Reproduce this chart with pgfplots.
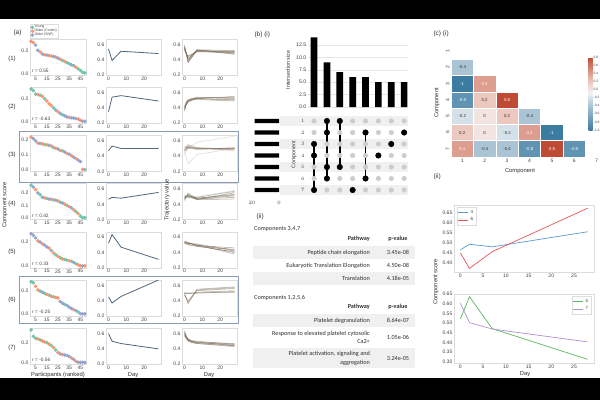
\documentclass[border=0pt]{standalone}
\usepackage{pgfplots}
\pgfplotsset{compat=1.18}
\usepackage{fontspec}
\setmainfont{Liberation Sans}
\newfontfamily\tabfont{Carlito}
\definecolor{cg}{HTML}{66C2A5}
\definecolor{co}{HTML}{FC8D62}
\definecolor{cb}{HTML}{8DA0CB}
\definecolor{spine}{HTML}{DCDCDC}
\definecolor{gridl}{HTML}{E6E6E6}
\definecolor{tickc}{HTML}{404040}
\definecolor{labc}{HTML}{303030}
\definecolor{linec}{HTML}{4F6680}
\definecolor{trajc}{HTML}{7A6A57}
\definecolor{framec}{HTML}{8C9CB8}
\definecolor{bandc}{HTML}{F0F0F0}
\definecolor{dotg}{HTML}{CCCCCC}
\definecolor{c4}{HTML}{5B9BD0}
\definecolor{c6}{HTML}{E8565A}
\definecolor{c5}{HTML}{5CB85C}
\definecolor{c7}{HTML}{B08FD0}
\definecolor{tr}{HTML}{D9534F}
\definecolor{tg}{HTML}{5CB85C}
\definecolor{tb}{HTML}{5B8FD0}
\definecolor{hm1}{RGB}{59,124,160}
\definecolor{hm08}{RGB}{97,148,178}
\definecolor{hmm04}{RGB}{170,196,213}
\definecolor{hmm02}{RGB}{213,225,233}
\definecolor{hz}{RGB}{242,228,224}
\definecolor{hp02}{RGB}{236,200,191}
\definecolor{hp04}{RGB}{222,158,143}
\definecolor{hp08}{RGB}{192,75,52}

\pgfdeclareplotmark{cell}{%
 \pgfpathrectangle{\pgfpoint{-11.2pt}{-8.1pt}}{\pgfpoint{22.4pt}{16.2pt}}%
 \pgfusepathqfillstroke}

\pgfplotsset{
 base/.style={scale only axis, axis line style={draw=spine, line width=0.6pt}, tick style={draw=none},
   ticklabel style={font=\fontsize{5}{6}\selectfont, text=tickc, inner sep=1.5pt},
   /pgf/number format/assume math mode=true},
 f1/.style={yticklabel style={/pgf/number format/.cd, fixed, fixed zerofill, precision=1}},
 f2/.style={yticklabel style={/pgf/number format/.cd, fixed, fixed zerofill, precision=2}},
 trajax/.style={anchor=north west, width=55pt, height=36pt, xmin=-1.4, xmax=29.4, ymin=0.2, ymax=0.67,
   xtick={0,10,20}, ytick={0.2,0.4,0.6}, f1},
}

% class-coloured dots: c = 0 young, 1 older comm, 2 older SNF
\newcommand\clsdots[3]{%
 \addplot[only marks, mark=*, mark size=1.6pt, color=#1, opacity=0.9] table[row sep=\\, restrict expr to domain={\thisrow{c}}{#2:#2}] {x y c\\#3};}
\newcommand\colone[7][]{%
 \begin{axis}[base, f1, clip=false, at={(30pt,-#2pt)}, anchor=north west, width=56pt, height=36pt,
   xmin=0, xmax=50, ymin=#3, ymax=#4, xtick={5,15,25,35,45}, ytick={#5}, #1]
 \clsdots{cg}{0}{#6}\clsdots{co}{1}{#6}\clsdots{cb}{2}{#6}
 \node[anchor=south west, inner sep=1pt, font=\fontsize{4.8}{5}\selectfont, text=tickc] at (rel axis cs:0.015,0.03) {#7};
 \end{axis}}
\newcommand\coltwo[2]{%
 \begin{axis}[base, trajax, at={(106pt,-#1pt)}]
 \addplot[linec, line width=0.8pt] coordinates {#2};
 \end{axis}}
\newcommand\colthree[2]{%
 \begin{axis}[base, trajax, at={(182pt,-#1pt)}]
 #2
 \end{axis}}
\newcommand\trj[1]{\addplot[trajc, opacity=0.6, line width=0.5pt] coordinates {#1};}
\newcommand\trjc[2]{\addplot[#1, opacity=0.3, line width=0.4pt] coordinates {#2};}
\newcommand\hcell[3]{\addplot[only marks, mark=cell, mark options={fill=#1, draw=white, line width=0.6pt},
   point meta=explicit symbolic, nodes near coords={\pgfplotspointmeta},
   every node near coord/.append style={anchor=center, font=\fontsize{4.3}{5}\selectfont, text=#2}]
   table[meta=t, row sep=\\] {x y t\\#3};}

\begin{document}
\begin{tikzpicture}[x=1pt,y=1pt]
\fill[black] (0,0) rectangle (600,-400);
\fill[white] (0,-19) rectangle (600,-378);

% ---------------- panel (a) ----------------
\node[anchor=west, font=\fontsize{6.5}{7}\selectfont, text=labc] at (10,-33) {(a)};
\draw[framec, line width=0.8pt] (19,-131.5) rectangle (238,-182);
\draw[framec, line width=0.8pt] (19,-276) rectangle (238,-323);
\foreach \t/\l in {39/1, 87.2/2, 135.4/3, 183.6/4, 231.8/5, 280/6, 328.2/7}
  \node[font=\fontsize{6}{7}\selectfont, text=labc] at (12,{-\t-20}) {(\l)};
\node[rotate=90, font=\fontsize{5.8}{7}\selectfont, text=labc] at (5,-205) {Component score};
\node[rotate=90, font=\fontsize{5.8}{7}\selectfont, text=labc] at (167,-200) {Trajectory value};
\node[font=\fontsize{5.8}{7}\selectfont, text=labc] at (58,-375) {Participants (ranked)};
\node[font=\fontsize{5.8}{7}\selectfont, text=labc] at (133,-375) {Day};
\node[font=\fontsize{5.8}{7}\selectfont, text=labc] at (209,-375) {Day};

% row 1
\colone[legend entries={Young, Older (Comm), Older (SNF)}, legend cell align=left,
   legend style={at={(0,1)}, anchor=south west, yshift=0.5pt, font=\fontsize{3.5}{4}\selectfont, draw=spine, inner sep=0.6pt, row sep=-1.4pt, text=tickc, nodes={inner sep=0.6pt}}]
 {39}{-0.015}{0.305}{0,0.2}{1 0.285 1\\3 0.272 1\\5 0.25 2\\7 0.205 2\\9 0.19 1\\11 0.172 2\\13 0.165 1\\15 0.162 2\\17 0.158 1\\19 0.155 1\\21 0.15 2\\23 0.145 1\\25 0.135 2\\27 0.125 1\\29 0.115 0\\31 0.105 1\\33 0.095 0\\35 0.085 0\\37 0.075 2\\39 0.068 0\\41 0.055 1\\43 0.04 0\\45 0.025 0\\47 0.008 0\\49 0.004 0\\}{\textit{r} = 0.55}
\coltwo{39}{(0,0.54) (2,0.39) (7,0.51) (28,0.48)}
\colthree{39}{\trj{(0,0.58) (2,0.36) (7,0.53) (28,0.52)}\trj{(0,0.57) (2,0.38) (7,0.52) (28,0.51)}\trj{(0,0.55) (2,0.40) (7,0.52) (28,0.50)}\trj{(0,0.54) (2,0.42) (7,0.51) (28,0.49)}\trj{(0,0.53) (2,0.44) (7,0.51) (28,0.48)}\trj{(0,0.56) (2,0.41) (7,0.53) (28,0.47)}\trj{(0,0.52) (2,0.45) (7,0.50) (28,0.51)}\trj{(0,0.59) (2,0.37) (7,0.52) (28,0.49)}}

% row 2
\colone{87.2}{-0.015}{0.30}{0,0.2}{1 0.285 0\\3 0.27 0\\5 0.24 0\\7 0.235 1\\9 0.23 0\\11 0.22 1\\13 0.2 0\\15 0.18 1\\17 0.155 1\\19 0.14 1\\21 0.12 0\\23 0.1 2\\25 0.085 1\\27 0.07 2\\29 0.06 0\\31 0.05 2\\33 0.04 2\\35 0.035 1\\37 0.033 2\\39 0.03 2\\41 0.025 2\\43 0.022 1\\45 0.01 1\\47 0.003 2\\49 0.002 2\\}{\textit{r} = -0.63}
\coltwo{87.2}{(0,0.35) (2,0.54) (7,0.56) (28,0.49)}
\colthree{87.2}{\trj{(0,0.36) (1,0.44) (2,0.48) (4,0.51) (7,0.53) (28,0.53)}\trj{(0,0.38) (1,0.45) (2,0.49) (4,0.51) (7,0.52) (28,0.51)}\trj{(0,0.40) (1,0.46) (2,0.49) (4,0.50) (7,0.52) (28,0.50)}\trj{(0,0.42) (1,0.47) (2,0.50) (4,0.51) (7,0.53) (28,0.54)}\trj{(0,0.37) (1,0.46) (2,0.50) (4,0.52) (7,0.54) (28,0.52)}\trj{(0,0.39) (1,0.44) (2,0.47) (4,0.50) (7,0.51) (28,0.49)}\trj{(0,0.41) (1,0.48) (2,0.51) (4,0.52) (7,0.52) (28,0.55)}}

% row 3
\colone{135.4}{-0.012}{0.232}{0,0.1,0.2}{1 0.22 1\\3 0.21 2\\5 0.195 2\\7 0.18 1\\9 0.178 2\\11 0.175 1\\13 0.17 0\\15 0.168 1\\17 0.165 2\\19 0.16 1\\21 0.15 0\\23 0.145 1\\25 0.14 2\\27 0.13 1\\29 0.128 0\\31 0.12 2\\33 0.11 1\\35 0.105 2\\37 0.095 1\\39 0.085 2\\41 0.075 1\\43 0.065 2\\45 0.055 2\\47 0.002 1\\49 0.0 0\\}{}
\coltwo{135.4}{(0,0.47) (2,0.53) (7,0.50) (28,0.50)}
\colthree{135.4}{\trjc{trajc}{(0,0.45) (2,0.30) (7,0.42) (28,0.50)}\trjc{trajc}{(0,0.42) (2,0.50) (7,0.58) (28,0.66)}\trjc{tr}{(0,0.50) (2,0.52) (7,0.51) (28,0.47)}\trj{(0,0.47) (2,0.53) (7,0.50) (28,0.50)}\trj{(0,0.50) (2,0.55) (7,0.51) (28,0.49)}\trj{(0,0.48) (2,0.50) (7,0.49) (28,0.51)}\trj{(0,0.52) (2,0.51) (7,0.50) (28,0.48)}\trj{(0,0.46) (2,0.52) (7,0.49) (28,0.50)}}

% row 4
\colone{183.6}{-0.013}{0.273}{0,0.1,0.2}{1 0.26 0\\3 0.245 2\\5 0.225 1\\7 0.2 2\\9 0.185 0\\11 0.165 2\\13 0.16 1\\15 0.155 0\\17 0.15 2\\19 0.148 1\\21 0.145 0\\23 0.14 2\\25 0.135 1\\27 0.125 0\\29 0.12 2\\31 0.11 1\\33 0.1 0\\35 0.09 1\\37 0.08 2\\39 0.065 1\\41 0.05 0\\43 0.035 1\\45 0.015 0\\47 0.003 0\\49 0.002 0\\}{\textit{r} = 0.42}
\coltwo{183.6}{(0,0.465) (2,0.49) (7,0.48) (28,0.555)}
\colthree{183.6}{\trjc{tb}{(0,0.50) (2,0.48) (7,0.50) (28,0.58)}\trjc{tg}{(0,0.46) (2,0.55) (7,0.47) (28,0.56)}\trj{(0,0.48) (2,0.52) (7,0.47) (28,0.51)}\trj{(0,0.50) (2,0.51) (7,0.48) (28,0.53)}\trj{(0,0.47) (2,0.53) (7,0.46) (28,0.55)}\trj{(0,0.49) (2,0.50) (7,0.49) (28,0.57)}\trj{(0,0.52) (2,0.49) (7,0.47) (28,0.49)}\trj{(0,0.45) (2,0.54) (7,0.48) (28,0.52)}\trj{(0,0.48) (2,0.51) (7,0.46) (28,0.47)}}

% row 5
\colone{231.8}{-0.014}{0.285}{0,0.2}{1 0.27 2\\3 0.255 2\\5 0.235 2\\7 0.21 1\\9 0.2 2\\11 0.185 1\\13 0.175 2\\15 0.16 2\\17 0.15 1\\19 0.13 2\\21 0.11 1\\23 0.095 0\\25 0.08 1\\27 0.07 0\\29 0.06 1\\31 0.055 0\\33 0.05 0\\35 0.045 1\\37 0.04 0\\39 0.03 2\\41 0.02 0\\43 0.01 1\\45 0.002 1\\47 0.002 2\\49 0.002 1\\}{\textit{r} = 0.33}
\coltwo{231.8}{(0,0.52) (2,0.635) (7,0.47) (28,0.31)}
\colthree{231.8}{\trj{(0,0.53) (2,0.52) (7,0.50) (28,0.42)}\trj{(0,0.54) (2,0.53) (7,0.49) (28,0.40)}\trj{(0,0.52) (2,0.51) (7,0.48) (28,0.44)}\trj{(0,0.53) (2,0.52) (7,0.50) (28,0.38)}\trj{(0,0.55) (2,0.53) (7,0.49) (28,0.46)}\trj{(0,0.52) (2,0.50) (7,0.48) (28,0.41)}\trj{(0,0.54) (2,0.52) (7,0.51) (28,0.43)}}

% row 6
\colone{280}{-0.015}{0.295}{0,0.2}{1 0.28 0\\3 0.27 0\\5 0.24 1\\7 0.21 1\\9 0.2 0\\11 0.19 2\\13 0.18 0\\15 0.17 1\\17 0.165 0\\19 0.155 1\\21 0.15 0\\23 0.145 1\\25 0.14 1\\27 0.11 2\\29 0.095 2\\31 0.085 0\\33 0.075 2\\35 0.06 2\\37 0.05 2\\39 0.04 1\\41 0.03 2\\43 0.02 0\\45 0.005 2\\47 0.003 2\\49 0.003 2\\}{\textit{r} = -0.25}
\coltwo{280}{(0,0.45) (2,0.37) (7,0.455) (28,0.67)}
\colthree{280}{\trj{(0,0.48) (2,0.38) (7,0.54) (28,0.57)}\trj{(0,0.50) (2,0.36) (7,0.55) (28,0.58)}\trj{(0,0.47) (2,0.40) (7,0.53) (28,0.56)}\trj{(0,0.50) (2,0.50) (7,0.50) (28,0.52)}\trj{(0,0.51) (2,0.49) (7,0.51) (28,0.53)}\trj{(0,0.49) (2,0.50) (7,0.50) (28,0.51)}}

% row 7
\colone{328.2}{-0.017}{0.342}{0,0.2}{1 0.325 0\\3 0.26 0\\5 0.24 0\\7 0.235 1\\9 0.225 0\\11 0.215 1\\13 0.205 1\\15 0.2 0\\17 0.185 1\\19 0.17 0\\21 0.15 1\\23 0.125 0\\25 0.1 1\\27 0.085 2\\29 0.08 1\\31 0.075 2\\33 0.07 2\\35 0.06 2\\37 0.045 1\\39 0.03 2\\41 0.01 1\\43 0.003 2\\45 0.002 2\\47 0.002 2\\49 0.002 2\\}{\textit{r} = -0.56}
\coltwo{328.2}{(0,0.60) (2,0.50) (7,0.47) (28,0.40)}
\colthree{328.2}{\trj{(0,0.60) (1,0.55) (2,0.52) (4,0.50) (7,0.48) (28,0.45)}\trj{(0,0.58) (1,0.54) (2,0.51) (4,0.49) (7,0.48) (28,0.46)}\trj{(0,0.62) (1,0.56) (2,0.53) (4,0.50) (7,0.49) (28,0.44)}\trj{(0,0.57) (1,0.53) (2,0.51) (4,0.50) (7,0.49) (28,0.47)}\trj{(0,0.61) (1,0.55) (2,0.50) (4,0.48) (7,0.47) (28,0.44)}\trj{(0,0.59) (1,0.56) (2,0.53) (4,0.51) (7,0.50) (28,0.46)}\trj{(0,0.64) (1,0.57) (2,0.52) (4,0.49) (7,0.47) (28,0.43)}}

% ---------------- panel (b)(i) ----------------
\node[anchor=west, font=\fontsize{6.5}{7}\selectfont, text=labc] at (251,-35) {(b) (i)};
\foreach \r in {121,144,167,190} \fill[bandc] (280,{-\r+5.2}) rectangle (408,{-\r-5.2});
\node[rotate=90, font=\fontsize{5.3}{6}\selectfont, text=labc] at (288,-70) {Intersection size};
\node[rotate=90, font=\fontsize{5.3}{6}\selectfont, text=labc] at (294,-155) {Component};
\begin{axis}[base, f1, at={(308pt,-35pt)}, anchor=north west, width=100pt, height=72pt, ybar, bar width=6.7pt,
   xmin=0.53, xmax=8.3, ymin=0, ymax=14.5, xtick=\empty, ytick={0,2.5,5,7.5,10,12.5},
   ymajorgrids, grid style={draw=gridl, line width=0.5pt}, axis line style={draw=none},
   ticklabel style={font=\fontsize{5.2}{6}\selectfont}]
 \addplot[fill=black, draw=none] coordinates {(1,14) (2,9) (3,7) (4,6) (5,6) (6,5) (7,5) (8,5)};
\end{axis}
\begin{axis}[at={(308pt,-115.25pt)}, anchor=north west, scale only axis, width=100pt, height=80.5pt,
   xmin=0.53, xmax=8.3, ymin=0.5, ymax=7.5, y dir=reverse, axis line style={draw=none}, tick style={draw=none},
   xtick=\empty, ytick={1,2,3,4,5,6,7}, ticklabel style={font=\fontsize{5.2}{6}\selectfont, text=tickc}, clip=false]
 \addplot[only marks, mark=*, mark size=2.3pt, color=dotg] coordinates {
  (1,1) (1,2) (1,3) (1,4) (1,5) (1,6) (1,7) (2,1) (2,2) (2,3) (2,4) (2,5) (2,6) (2,7)
  (3,1) (3,2) (3,3) (3,4) (3,5) (3,6) (3,7) (4,1) (4,2) (4,3) (4,4) (4,5) (4,6) (4,7)
  (5,1) (5,2) (5,3) (5,4) (5,5) (5,6) (5,7) (6,1) (6,2) (6,3) (6,4) (6,5) (6,6) (6,7)
  (7,1) (7,2) (7,3) (7,4) (7,5) (7,6) (7,7) (8,1) (8,2) (8,3) (8,4) (8,5) (8,6) (8,7)};
 \addplot[black, line width=1.6pt] coordinates {(1,3) (1,7)};
 \addplot[black, line width=1.6pt] coordinates {(2,1) (2,6)};
 \addplot[black, line width=1.6pt] coordinates {(3,1) (3,5)};
 \addplot[black, line width=1.6pt] coordinates {(5,2) (5,6)};
 \addplot[only marks, mark=*, mark size=2.8pt, black] coordinates {(1,3) (1,4) (1,7) (2,1) (2,2) (2,5) (2,6) (3,1) (3,5) (4,7) (5,2) (5,6) (6,4) (7,3) (8,2)};
\end{axis}
\begin{axis}[at={(252pt,-115.25pt)}, anchor=north west, scale only axis, width=27pt, height=80.5pt,
   xbar, bar width=4.2pt, xmin=0, xmax=20, x dir=reverse, ymin=0.5, ymax=7.5, y dir=reverse,
   axis line style={draw=none}, tick style={draw=none}, ytick=\empty, xtick={0,20},
   ticklabel style={font=\fontsize{5}{6}\selectfont, text=tickc}, xticklabel style={yshift=-2pt}]
 \addplot[fill=black, draw=none] coordinates {(18,1) (18,2) (18,3) (18,4) (18,5) (18,6) (18,7)};
\end{axis}

% ---------------- panel (b)(ii) ----------------
\node[anchor=west, font=\fontsize{6.5}{7}\selectfont, text=labc] at (253,-217) {(ii)};
\fill[bandc] (253,-246) rectangle (415,-259);
\fill[bandc] (253,-272) rectangle (415,-285);
\fill[bandc] (253,-314) rectangle (415,-327);
\fill[bandc] (253,-348) rectangle (415,-368);
\begin{scope}[every node/.style={font=\tabfont\fontsize{6.2}{8.5}\selectfont, text=labc, inner sep=0pt}]
\node[anchor=west] at (254,-229) {Components 3,4,7};
\node[anchor=east] at (370,-239) {\bfseries Pathway};
\node at (398,-239) {\bfseries p-value};
\node[anchor=east] at (370,-252.5) {Peptide chain elongation};
\node at (398,-252.5) {3.45e-08};
\node[anchor=east] at (370,-265.5) {Eukaryotic Translation Elongation};
\node at (398,-265.5) {4.50e-08};
\node[anchor=east] at (370,-278.5) {Translation};
\node at (398,-278.5) {4.18e-05};
\node[anchor=west] at (254,-298) {Components 1,2,5,6};
\node[anchor=east] at (370,-307) {\bfseries Pathway};
\node at (398,-307) {\bfseries p-value};
\node[anchor=east] at (370,-320.5) {Platelet degranulation};
\node at (398,-320.5) {8.64e-07};
\node[anchor=east, align=right] at (370,-337.5) {Response to elevated platelet cytosolic\\Ca2+};
\node at (398,-337.5) {1.05e-06};
\node[anchor=east, align=right] at (370,-358.5) {Platelet activation, signaling and\\aggregation};
\node at (398,-358.5) {3.24e-05};
\end{scope}

% ---------------- panel (c)(i) ----------------
\node[anchor=west, font=\fontsize{6.5}{7}\selectfont, text=labc] at (430,-34) {(c) (i)};
\node[rotate=90, font=\fontsize{5.8}{7}\selectfont, text=labc] at (437,-103) {Component};
\node[font=\fontsize{5.8}{7}\selectfont, text=labc] at (520,-171) {Component};
\begin{axis}[base, at={(451pt,-43pt)}, anchor=north west, width=157pt, height=114pt,
   xmin=0.5, xmax=7.5, ymin=0.5, ymax=7.5, y dir=reverse, axis line style={draw=none},
   xtick={1,2,3,4,5,6,7}, ytick={1,2,3,4,5,6,7}, yticklabel style={rotate=90, anchor=south},
   colormap={hm}{rgb255(0cm)=(59,124,160); rgb255(2cm)=(97,148,178); rgb255(6cm)=(170,196,213); rgb255(8cm)=(213,225,233); rgb255(9cm)=(242,242,242); rgb255(10cm)=(242,228,224); rgb255(12cm)=(236,200,191); rgb255(14cm)=(222,158,143); rgb255(18cm)=(192,75,52)},
   point meta min=-1, point meta max=0.8,
   colorbar, colorbar style={at={(parent axis.north east)}, anchor=north west, xshift=-28pt, yshift=-14pt,
     width=4pt, height=73pt, scale only axis, axis line style={draw=none}, tick style={draw=none},
     ytick={-1,-0.8,-0.6,-0.4,-0.2,0,0.2,0.4,0.6,0.8},
     yticklabel style={font=\fontsize{3.3}{4}\selectfont, text=tickc, inner sep=1pt, /pgf/number format/.cd, fixed, fixed zerofill, precision=1, assume math mode=true}}]
 \hcell{hm1}{white}{1 3 -1\\5 6 -1\\}
 \hcell{hm08}{white}{1 4 -0.8\\4 7 -0.8\\6 7 -0.8\\}
 \hcell{hmm04}{labc}{1 2 -0.4\\4 5 -0.4\\2 7 -0.4\\3 7 -0.4\\}
 \hcell{hmm02}{labc}{1 5 -0.2\\3 6 -0.2\\}
 \hcell{hz}{labc}{2 5 0\\2 6 0\\}
 \hcell{hp02}{labc}{2 4 0.2\\3 5 0.2\\1 6 0.2\\}
 \hcell{hp04}{white}{2 3 0.4\\4 6 0.4\\1 7 0.4\\}
 \hcell{hp08}{white}{3 4 0.8\\5 7 0.8\\}
\end{axis}

% ---------------- panel (c)(ii) ----------------
\node[anchor=west, font=\fontsize{6.5}{7}\selectfont, text=labc] at (430,-177) {(ii)};
\node[rotate=90, font=\fontsize{5.8}{7}\selectfont, text=labc] at (436,-282) {Component score};
\node[font=\fontsize{5.8}{7}\selectfont, text=labc] at (525,-374) {Day};
\begin{axis}[base, f2, at={(454pt,-205pt)}, anchor=north west, width=140pt, height=67pt,
   xmin=-1.4, xmax=29.4, ymin=0.355, ymax=0.688, xtick={0,5,10,15,20,25}, ytick={0.40,0.45,0.50,0.55,0.60,0.65},
   legend style={at={(0.02,0.97)}, anchor=north west, font=\fontsize{4.5}{5}\selectfont, draw=spine, inner sep=1pt, row sep=-1pt, text=tickc},
   legend cell align=left, legend image code/.code={\draw[#1] (0pt,0pt) -- (10pt,0pt);}]
 \addplot[c4, line width=0.7pt] coordinates {(0,0.465) (2,0.493) (7,0.48) (28,0.555)};
 \addplot[c6, line width=0.7pt] coordinates {(0,0.45) (2,0.373) (7,0.456) (28,0.672)};
 \legend{4,6}
\end{axis}
\begin{axis}[base, f2, at={(454pt,-294pt)}, anchor=north west, width=140pt, height=69pt,
   xmin=-1.4, xmax=29.4, ymin=0.294, ymax=0.651, xtick={0,5,10,15,20,25}, ytick={0.30,0.35,0.40,0.45,0.50,0.55,0.60,0.65},
   legend style={at={(0.98,0.97)}, anchor=north east, font=\fontsize{4.5}{5}\selectfont, draw=spine, inner sep=1pt, row sep=-1pt, text=tickc},
   legend cell align=left, legend image code/.code={\draw[#1] (0pt,0pt) -- (10pt,0pt);}]
 \addplot[c5, line width=0.7pt] coordinates {(0,0.522) (2,0.637) (7,0.472) (28,0.313)};
 \addplot[c7, line width=0.7pt] coordinates {(0,0.603) (2,0.503) (7,0.470) (28,0.403)};
 \legend{5,7}
\end{axis}

\pgfresetboundingbox
\path[use as bounding box] (0,0) rectangle (600,-400);
\end{tikzpicture}
\end{document}
